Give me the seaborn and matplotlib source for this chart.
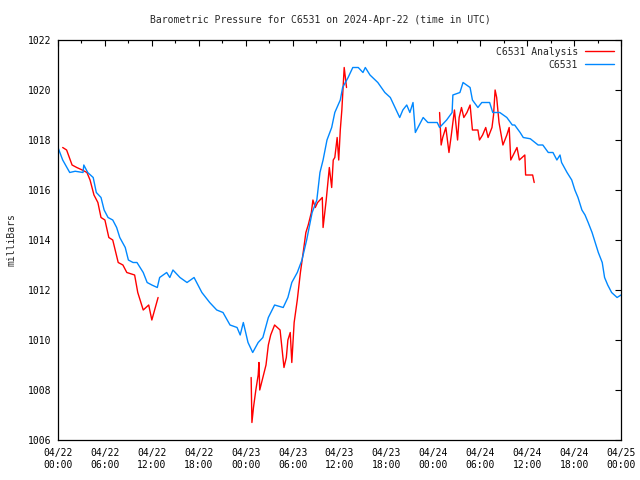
import numpy as np
import pandas as pd
import matplotlib
matplotlib.use("Agg")
import matplotlib.pyplot as plt
import matplotlib.dates as mdates
import seaborn as sns

# hours after 2024-04-22 00:00 UTC, pressure in mbar
obs_hours = [0, 0.6, 1.5, 2.2, 3.2, 3.3, 3.8, 4.5, 4.9, 5.5, 5.9, 6.4, 7.0, 7.5, 7.9,
             8.6, 9.0, 9.6, 10.1, 10.5, 10.9, 11.4, 12.0, 12.7, 13.0, 13.9, 14.3, 14.7,
             15.6, 16.5, 17.4, 18.4, 19.4, 20.3, 21.1, 22.0, 22.9, 23.3, 23.7, 24.3,
             24.9, 25.6, 26.2, 26.9, 27.7, 28.8, 29.4, 29.9, 30.6, 31.2, 31.8, 32.5,
             33.1, 33.5, 33.9, 34.4, 35.0, 35.4, 36.1, 36.4, 37.1, 37.7, 38.4, 39.0,
             39.3, 39.9, 40.9, 41.8, 42.5, 43.1, 43.7, 44.1, 44.6, 45.0, 45.4, 45.7,
             46.7, 47.3, 48.5, 48.8, 49.7, 50.4, 50.5, 51.4, 51.8, 52.7, 53.0, 53.7,
             54.2, 55.2, 55.6, 56.5, 57.4, 58.1, 58.4, 59.1, 59.5, 60.4, 61.4, 62.0,
             62.7, 63.3, 63.8, 64.2, 64.4, 65.1, 65.7, 66.1, 66.5, 67.0, 67.4, 67.8,
             68.3, 68.7, 69.1, 69.6, 69.9, 70.3, 70.8, 71.5, 72.0]
obs_mbar = [1017.7, 1017.2, 1016.7, 1016.75, 1016.7, 1017.0, 1016.7, 1016.5, 1015.9,
            1015.7, 1015.2, 1014.9, 1014.8, 1014.5, 1014.1, 1013.7, 1013.2, 1013.1,
            1013.1, 1012.9, 1012.7, 1012.3, 1012.2, 1012.1, 1012.5, 1012.7, 1012.5,
            1012.8, 1012.5, 1012.3, 1012.5, 1011.9, 1011.5, 1011.2, 1011.1, 1010.6,
            1010.5, 1010.2, 1010.7, 1009.9, 1009.5, 1009.9, 1010.1, 1010.9, 1011.4,
            1011.3, 1011.7, 1012.3, 1012.7, 1013.2, 1014.0, 1015.1, 1015.6, 1016.7,
            1017.2, 1018.0, 1018.5, 1019.1, 1019.6, 1020.1, 1020.5, 1020.9, 1020.9,
            1020.7, 1020.9, 1020.6, 1020.3, 1019.9, 1019.7, 1019.3, 1018.9, 1019.2,
            1019.4, 1019.1, 1019.5, 1018.3, 1018.9, 1018.7, 1018.7, 1018.5, 1018.8,
            1019.1, 1019.8, 1019.9, 1020.3, 1020.1, 1019.6, 1019.3, 1019.5, 1019.5,
            1019.1, 1019.1, 1018.9, 1018.6, 1018.6, 1018.3, 1018.1, 1018.05, 1017.8,
            1017.8, 1017.5, 1017.5, 1017.2, 1017.4, 1017.1, 1016.7, 1016.4, 1016.0,
            1015.7, 1015.2, 1015.0, 1014.7, 1014.3, 1013.9, 1013.5, 1013.1, 1012.5,
            1012.2, 1011.9, 1011.7, 1011.8]

# analysis comes in three separate runs
ana_hours_1 = [0.6, 1.1, 1.8, 2.4, 3.1, 3.7, 4.1, 4.6, 5.1, 5.5, 6.0, 6.5, 7.0, 7.7,
               8.3, 8.8, 9.8, 10.2, 10.9, 11.6, 12.0, 12.8]
ana_mbar_1 = [1017.7, 1017.6, 1017.0, 1016.9, 1016.8, 1016.7, 1016.4, 1015.8, 1015.5,
              1014.9, 1014.8, 1014.1, 1014.0, 1013.1, 1013.0, 1012.7, 1012.6, 1011.9,
              1011.2, 1011.4, 1010.8, 1011.7]
ana_hours_2 = [24.7, 24.8, 25.0, 25.3, 25.6, 25.7, 25.8, 26.2, 26.6, 26.9, 27.2, 27.7,
               28.4, 28.9, 29.2, 29.4, 29.7, 29.9, 30.2, 30.6, 31.0, 31.4, 31.7, 32.0,
               32.4, 32.6, 32.9, 33.2, 33.8, 33.9, 34.3, 34.7, 35.0, 35.2, 35.4, 35.7,
               35.9, 36.1, 36.3, 36.6, 36.9]
ana_mbar_2 = [1008.5, 1006.7, 1007.3, 1008.0, 1008.6, 1009.1, 1008.0, 1008.5, 1009.0,
              1009.8, 1010.2, 1010.6, 1010.4, 1008.9, 1009.3, 1010.0, 1010.3, 1009.1,
              1010.7, 1011.6, 1012.7, 1013.6, 1014.3, 1014.6, 1015.1, 1015.6, 1015.3,
              1015.5, 1015.7, 1014.5, 1015.6, 1016.9, 1016.1, 1017.2, 1017.3, 1018.1,
              1017.2, 1018.4, 1019.2, 1020.9, 1020.1]
ana_hours_3 = [48.8, 49.0, 49.2, 49.6, 50.0, 50.3, 50.7, 51.1, 51.3, 51.6, 51.9, 52.3,
               52.7, 53.0, 53.7, 53.9, 54.3, 54.7, 55.0, 55.5, 55.7, 55.9, 56.1, 56.4,
               56.9, 57.4, 57.7, 57.9, 58.7, 59.0, 59.7, 59.8, 60.7, 60.9]
ana_mbar_3 = [1019.1, 1017.8, 1018.1, 1018.5, 1017.5, 1018.2, 1019.2, 1018.0, 1018.9,
              1019.3, 1018.9, 1019.1, 1019.4, 1018.4, 1018.4, 1018.0, 1018.2, 1018.5,
              1018.1, 1018.5, 1019.0, 1020.0, 1019.7, 1018.7, 1017.8, 1018.2, 1018.5,
              1017.2, 1017.7, 1017.2, 1017.4, 1016.6, 1016.6, 1016.3]

start = pd.Timestamp("2024-04-22 00:00")

obs = pd.DataFrame({"time": start + pd.to_timedelta(obs_hours, unit="h"),
                    "mbar": obs_mbar})
ana = pd.concat([
    pd.DataFrame({"hours": h, "mbar": m, "run": i})
    for i, (h, m) in enumerate([(ana_hours_1, ana_mbar_1),
                                (ana_hours_2, ana_mbar_2),
                                (ana_hours_3, ana_mbar_3)])
], ignore_index=True)
ana["time"] = start + pd.to_timedelta(ana["hours"], unit="h")

sns.set_style("white")
plt.rcParams["font.family"] = ["DejaVu Sans Mono"]
plt.rcParams["font.size"] = 7

fig = plt.figure(figsize=(6.4, 4.8), dpi=100)
ax = fig.add_axes([58 / 640, 40 / 480, 563 / 640, 400 / 480])

sns.lineplot(data=ana, x="time", y="mbar", units="run", estimator=None, sort=False,
             color="#ff0000", lw=1, label="C6531 Analysis", ax=ax)
sns.lineplot(data=obs, x="time", y="mbar", estimator=None, sort=False,
             color="#0088ff", lw=1, label="C6531", ax=ax)

ax.set_xlim(start, start + pd.Timedelta(hours=72))
ax.set_ylim(1006, 1022)
ax.set_yticks(np.arange(1006, 1023, 2))
ax.xaxis.set_major_locator(mdates.HourLocator(byhour=[0, 6, 12, 18]))
ax.xaxis.set_minor_locator(mdates.HourLocator(byhour=[3, 9, 15, 21]))
ax.xaxis.set_major_formatter(mdates.DateFormatter("%m/%d\n%H:%M"))
ax.tick_params(which="both", direction="in", top=True, right=True, colors="black",
               labelsize=7, width=0.8)
ax.tick_params(which="major", length=4)
ax.tick_params(which="minor", length=2)
ax.tick_params(axis="x", pad=6)
ax.tick_params(axis="y", pad=5)
for lbl in ax.get_xticklabels():
    lbl.set_ha("center")
for s in ax.spines.values():
    s.set_color("black")
    s.set_linewidth(0.9)

ax.set_xlabel("")
ax.set_ylabel("")
fig.text(12 / 640, 0.5, "milliBars", rotation=90, ha="center", va="center", fontsize=7)
fig.text(0.5, 1 - 20 / 480, "Barometric Pressure for C6531 on 2024-Apr-22 (time in UTC)",
         ha="center", va="center", fontsize=7)

# one legend row per series (units give one handle per run)
handles, labels = ax.get_legend_handles_labels()
keep = {}
for h, l in zip(handles, labels):
    keep.setdefault(l, h)
ax.legend(list(keep.values()), list(keep.keys()), loc="upper right", frameon=False,
          markerfirst=False, handlelength=3, handletextpad=0.7, labelspacing=0.3,
          borderaxespad=0.3, fontsize=7)

fig.savefig("out.png", dpi=100)
